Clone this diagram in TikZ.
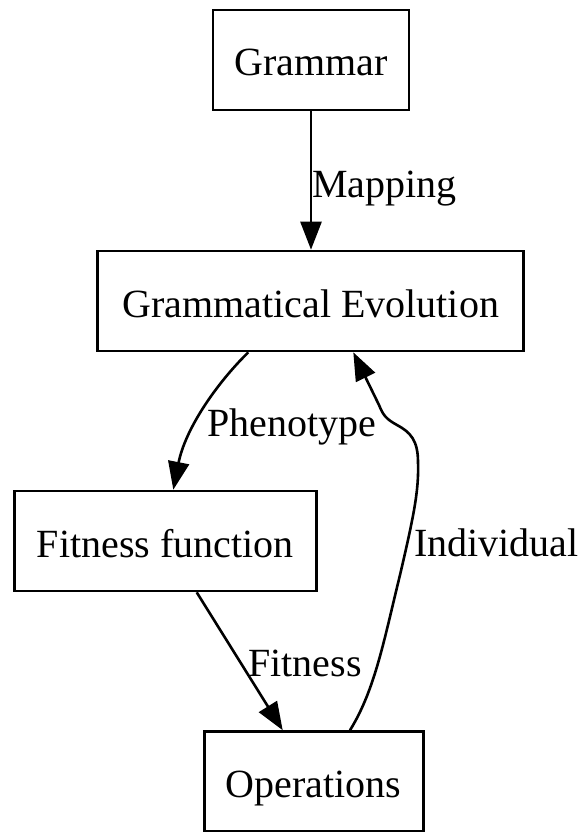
\documentclass[tikz,border=0pt]{standalone}
\usepackage{fontspec}
\setmainfont{Liberation Serif}
\usetikzlibrary{arrows.meta}

\begin{document}
\begin{tikzpicture}[x=1pt, y=-1pt,
  every node/.style={font=\fontsize{40}{48}\selectfont},
  box/.style={draw, line width=2.6pt, rectangle, inner sep=0pt,
    minimum height=100pt, text height=32pt, text depth=0pt},
  lbl/.style={anchor=base west, inner sep=0pt},
  edge/.style={line width=2.6pt, -{Triangle[length=28pt, width=21pt]}}]
  \useasboundingbox (0,0) rectangle (582,832);

  % processing stages
  \node[box, minimum width=196pt] (gram) at (311,60) {Grammar};
  \node[box, minimum width=426pt] (ge) at (310.7,301) {Grammatical Evolution};
  \node[box, minimum width=302pt] (fit) at (165.3,541) {Fitness function};
  \node[box, minimum width=219pt] (ops) at (313.7,781.5) {Operations};

  % connections between stages
  \draw[edge] (gram.south) -- (gram.south |- ge.north);
  \draw[edge] ([xshift=-62.4pt]ge.south)
    .. controls (215,385) and (185,430) .. ([xshift=8pt]fit.north);
  \draw[edge] ([xshift=31.4pt]fit.south) -- ([xshift=-31pt]ops.north);
  \draw[edge] ([xshift=36.3pt]ops.north)
    .. controls (375,690) and (384,640) .. (400,575)
    .. controls (414,515) and (419,490) .. (418,462)
    .. controls (418,440) and (410,432) .. (397,425)
    .. controls (386,419) and (383,415) .. (379,405)
    -- ([xshift=42.6pt]ge.south);

  % edge labels
  \node[lbl] (lmap) at (312,197) {Mapping};
  \node[lbl] (lphen) at (207.3,436.5) {Phenotype};
  \node[lbl] (lfit) at (248,676.7) {Fitness};
  \node[lbl] (lind) at (414,556.7) {Individual};
\end{tikzpicture}
\end{document}
